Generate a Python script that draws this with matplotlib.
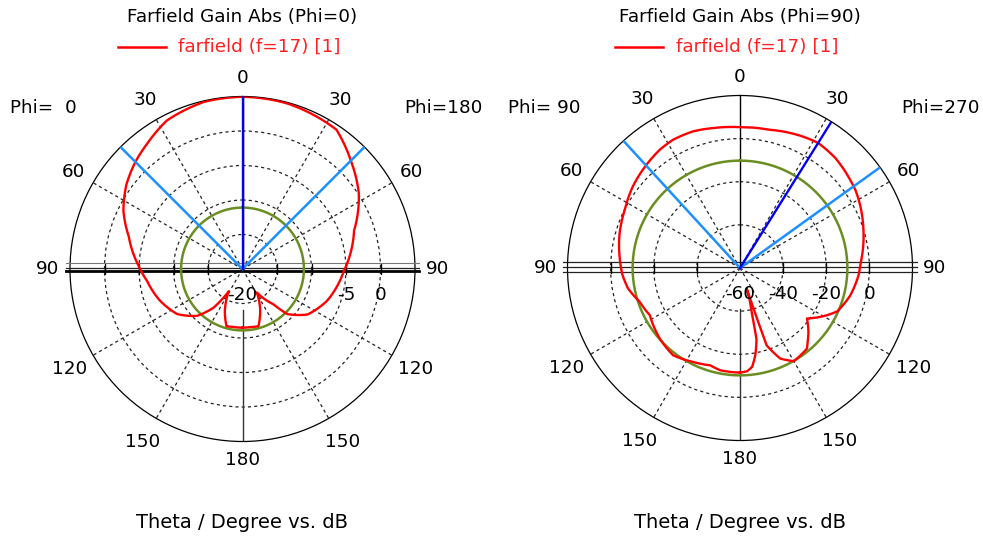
import numpy as np
import matplotlib
matplotlib.use('Agg')
import matplotlib.pyplot as plt
from matplotlib.lines import Line2D

# Phi=0 cut (theta in degrees, negative = Phi=0 side, positive = Phi=180 side)
theta_phi0 = [-180, -171, -164.4, -157.2, -148.4, -143.2, -135.9, -124.6, -111.1, -97,
              -88, -74, -64, -54, -45, -37, -27, -13, 0, 15, 34, 45, 57, 71, 91,
              110.5, 125, 135.2, 138.8, 148.6, 155.4, 164.4, 172, 180]
gain_phi0 = [-11.5, -11.5, -11.4, -13.4, -16.2, -13.0, -10.55, -8.5, -7.2, -6.05,
             -4.9, -2.85, -0.8, 0.8, 1.95, 2.85, 4.15, 4.85, 4.95, 4.85, 4.35, 2.2, 0.1, -2.9, -5.3,
             -6.9, -8.5, -10.8, -13.2, -16.0, -13.9, -11.4, -11.5, -11.5]

# Phi=90 cut (negative = Phi=90 side, positive = Phi=270 side)
theta_phi90 = [-180, -169, -163, -153.5, -142.5, -131, -117.6, -108.6, -100.3, -93.4,
               -84, -74, -63, -53, -42, -34, -27.5, -19, -10, 0, 11.6, 25, 32, 41, 51,
               56, 63, 74, 88, 93.4, 104, 114, 118.5, 127, 133, 138, 140.3, 150, 156,
               158.5, 161, 161.5, 162, 163, 165, 166, 167, 170, 173, 176, 180]
gain_phi90 = [-11.5, -11.7, -12.8, -11.3, -9.0, -10.5, -12.8, -10.9, -7.2, -5.4,
              -3.8, -1.9, -0.1, 2.4, 4.65, 6.3, 7.1, 7.0, 6.0, 5.3, 5.5, 7.5, 8.4, 7.5, 5.5,
              4.6, 2.7, -0.4, -4.1, -4.9, -7.3, -10.6, -14.1, -21.1, -16.6, -13.2, -11.4, -10.1, -14.0,
              -18.0, -22.1, -40.0, -50.0, -45.0, -40.0, -34.0, -26.0, -19.0, -13.8, -12.0, -11.5]

# main lobe direction, 3 dB angular width, side lobe level circle
main_dir = [0, 32]
width_dirs = [(-45, 45), (-42.5, 54.3)]
sll_level = [-11.1, -10.2]

r_limits = [(-20, 5), (-60, 20)]
r_rings = [[-15, -10, -5, 0], [-40, -20, 0]]
r_labels = [[-20, -5, 0], [-60, -40, -20, 0]]
titles = ['Farfield Gain Abs (Phi=0)', 'Farfield Gain Abs (Phi=90)']
phi_names = [('Phi=  0', 'Phi=180'), ('Phi= 90', 'Phi=270')]
legend_label = 'farfield (f=17) [1]'
angle_ticks = [0, 30, 60, 90, 120, 150, 180, -30, -60, -90, -120, -150]

W, H = 983, 539
fig = plt.figure(figsize=(W / 100, H / 100), dpi=100)
plt.rcParams['font.family'] = 'DejaVu Sans'
FS = 13.2

centers = [(242.5, 269), (740, 268)]
R = 172.5
data = [(theta_phi0, gain_phi0), (theta_phi90, gain_phi90)]
hlines = [[(6, 0.8, '#777777'), (1.5, 0.9, '#222222'), (-2, 2.0, 'black')],
          [(6, 0.9, '#222222'), (1.5, 0.9, '#222222'), (-3.5, 0.9, '#222222')]]

for i in range(2):
    cx, cy = centers[i]
    rect = [(cx - R) / W, (H - cy - R) / H, 2 * R / W, 2 * R / H]
    ax = fig.add_axes(rect, projection='polar')
    ax.set_theta_zero_location('N')
    ax.set_theta_direction(-1)
    rmin, rmax = r_limits[i]
    ax.set_rlim(rmin, rmax)
    ax.set_rgrids(r_rings[i], labels=[''] * len(r_rings[i]))
    ax.set_thetagrids([30, 60, 120, 150, 210, 240, 300, 330], labels=[''] * 8)
    ax.grid(True, color='#222222', linestyle=(0, (2.5, 2.5)), linewidth=0.9)
    ax.spines['polar'].set_linewidth(0.9)
    ax.tick_params(axis='x', direction='in', length=4, width=0.8, pad=0)
    ax.tick_params(axis='y', length=0)

    # horizontal axis lines
    for off, lw, col in hlines[i]:
        y = 0.5 + off / (2 * R)
        ax.plot([-0.012, 1.012], [y, y], transform=ax.transAxes, color=col,
                lw=lw, clip_on=False, zorder=4)
    # vertical axis line
    ax.plot([0, 0], [rmin, rmax], color='black', lw=1.0, zorder=3)
    ax.plot([np.pi, np.pi], [rmin + 0.24 * (rmax - rmin), rmax], color='#333333',
            lw=1.0, zorder=3)
    # ticks on axes
    ax.plot(np.full(len(r_rings[i]), np.pi / 2), r_rings[i], ls='none', marker='|',
            ms=7, mew=1, color='black', zorder=4)
    ax.plot(np.full(len(r_rings[i]), -np.pi / 2), r_rings[i], ls='none', marker='|',
            ms=7, mew=1, color='black', zorder=4)

    th, g = data[i]
    ax.plot(np.deg2rad(np.linspace(0, 360, 361)),
            np.full(361, sll_level[i]), color='#6b8e23', lw=1.8, zorder=5)
    ln, = ax.plot(np.deg2rad(th), g, color='#ff0000', lw=1.7, zorder=6)
    # let the polar transform draw arcs between samples
    ln.get_path()._interpolation_steps = 40
    for wd in width_dirs[i]:
        ax.plot([np.deg2rad(wd)] * 2, [rmin, rmax], color='#1e8fff', lw=1.8, zorder=7)
    ax.plot([np.deg2rad(main_dir[i])] * 2, [rmin, rmax], color='#0000ee', lw=1.7, zorder=8)

    # radial labels
    for lab in r_labels[i]:
        ax.annotate(str(lab), xy=(np.pi / 2, lab), xytext=(0, -12),
                    textcoords='offset points', ha='center', va='top',
                    fontsize=FS, zorder=9)
    # angle labels
    for a in angle_ticks:
        f = 1.13 if abs(a) <= 90 else 1.16
        if abs(a) in (0, 180):
            f = 1.11
        x = 0.5 + 0.5 * f * np.sin(np.deg2rad(a))
        y = 0.5 + 0.5 * f * np.cos(np.deg2rad(a))
        ax.text(x, y, str(abs(a)), transform=ax.transAxes, ha='center',
                va='center', fontsize=FS)

    # title, legend, phi names, axis label
    fig.text(cx / W, 1 - 17 / H, titles[i], ha='center', va='center', fontsize=FS)
    fig.add_artist(Line2D([(cx - 125) / W, (cx - 77) / W], [1 - 47 / H] * 2,
                          color='#ff0000', lw=1.8))
    fig.text((cx - 64) / W, 1 - 47 / H, legend_label, ha='left', va='center',
             fontsize=FS, color='#ff2020')
    fig.text((cx - 232) / W, 1 - 108 / H, phi_names[i][0], ha='left', va='center',
             fontsize=FS)
    fig.text((cx + 240) / W, 1 - 108 / H, phi_names[i][1], ha='right', va='center',
             fontsize=FS)
    fig.text(cx / W, 1 - 522 / H, 'Theta / Degree vs. dB', ha='center', va='center',
             fontsize=14)

fig.savefig('out.png', dpi=100, facecolor='white')
